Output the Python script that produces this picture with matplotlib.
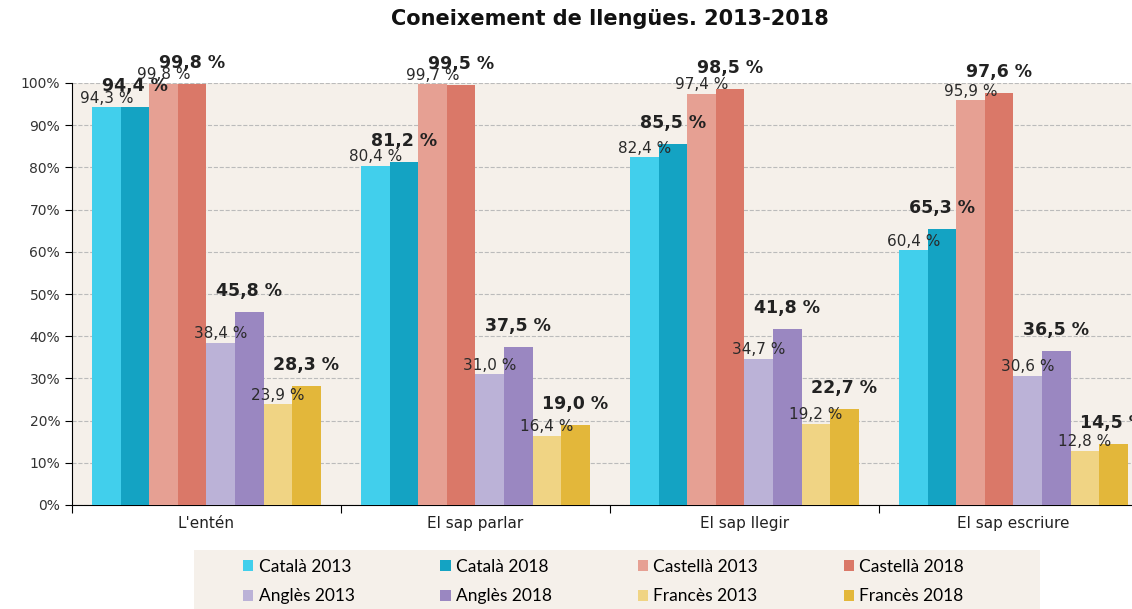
import numpy as np
import matplotlib
matplotlib.use('Agg')
import matplotlib.pyplot as plt
from matplotlib.patches import Rectangle

# dades
categories = ["L'entén", "El sap parlar", "El sap llegir", "El sap escriure"]
series_names = ["Català 2013", "Català 2018", "Castellà 2013", "Castellà 2018",
                "Anglès 2013", "Anglès 2018", "Francès 2013", "Francès 2018"]
catala_2013 = [94.3, 80.4, 82.4, 60.4]
catala_2018 = [94.4, 81.2, 85.5, 65.3]
castella_2013 = [99.8, 99.7, 97.4, 95.9]
castella_2018 = [99.8, 99.5, 98.5, 97.6]
angles_2013 = [38.4, 31.0, 34.7, 30.6]
angles_2018 = [45.8, 37.5, 41.8, 36.5]
frances_2013 = [23.9, 16.4, 19.2, 12.8]
frances_2018 = [28.3, 19.0, 22.7, 14.5]

series = [catala_2013, catala_2018, castella_2013, castella_2018,
          angles_2013, angles_2018, frances_2013, frances_2018]
colors = ['#41CFEC', '#14A3C3', '#E6A093', '#DA7868',
          '#BBB2D7', '#9A87C1', '#F0D484', '#E3B73A']

bg = '#F5F0EA'
plt.rcParams['font.family'] = ['DejaVu Sans']

fig = plt.figure(figsize=(11.32, 6.09), dpi=100)
ax = fig.add_axes([72 / 1132, 104 / 609, 1076 / 1132, 422 / 609])
ax.set_facecolor(bg)

x = np.arange(len(categories))
w = 0.106
handles = []
for i, (vals, col) in enumerate(zip(series, colors)):
    pos = x + (i - 3.5) * w
    b = ax.bar(pos, vals, width=w, color=col, label=series_names[i], zorder=3)
    handles.append(b)
    bold = (i % 2 == 1)
    for p, v in zip(pos, vals):
        txt = f"{v:.1f}".replace('.', ',') + " %"
        if bold:
            ax.annotate(txt, (p, v), xytext=(0, 21), textcoords='offset pixels',
                        ha='center', va='center', fontsize=12.5, fontweight='bold',
                        color='#222222', zorder=5)
        else:
            ax.annotate(txt, (p, v), xytext=(0, 9), textcoords='offset pixels',
                        ha='center', va='center', fontsize=11,
                        color='#2a2a2a', zorder=5)

ax.set_xlim(-0.5, 3.5)
ax.set_ylim(0, 100)
ax.set_yticks(np.arange(0, 101, 10))
ax.set_yticklabels([f"{t}%" for t in range(0, 101, 10)], fontsize=10, color='#333333')
ax.yaxis.grid(True, linestyle='--', color='#BBBBBB', linewidth=0.8, zorder=0)
ax.set_axisbelow(True)

# ticks de la base entre grups
ax.set_xticks(np.arange(-0.5, 4, 1))
ax.set_xticklabels([])
ax.set_xticks(x, minor=True)
ax.set_xticklabels(categories, minor=True, fontsize=11, color='#222222')
ax.tick_params(axis='x', which='minor', length=0, pad=8)
ax.tick_params(axis='x', which='major', length=6, direction='out')
ax.tick_params(axis='y', length=5, direction='out')

for s in ['top', 'right']:
    ax.spines[s].set_visible(False)
ax.spines['left'].set_color('black')
ax.spines['bottom'].set_color('black')

fig.suptitle("Coneixement de llengües. 2013-2018", x=610 / 1132, y=0.985, fontsize=15,
             fontweight='bold', color='#111111')

# fons de la llegenda
fig.patches.append(Rectangle((194 / 1132, 0), 846 / 1132, 59 / 609,
                             transform=fig.transFigure, facecolor=bg,
                             edgecolor='none', zorder=0))

order = [0, 4, 1, 5, 2, 6, 3, 7]
leg = fig.legend([handles[k] for k in order], [series_names[k] for k in order],
                 ncol=4, loc='center', bbox_to_anchor=(236 / 1132, -2 / 609, 735 / 1132, 59 / 609),
                 mode='expand', frameon=False,
                 handlelength=0.6, handleheight=0.6, handletextpad=0.3,
                 borderaxespad=0, labelspacing=0.8, prop={'family': 'Lato', 'size': 12.5})

fig.savefig('out.png', dpi=100)
